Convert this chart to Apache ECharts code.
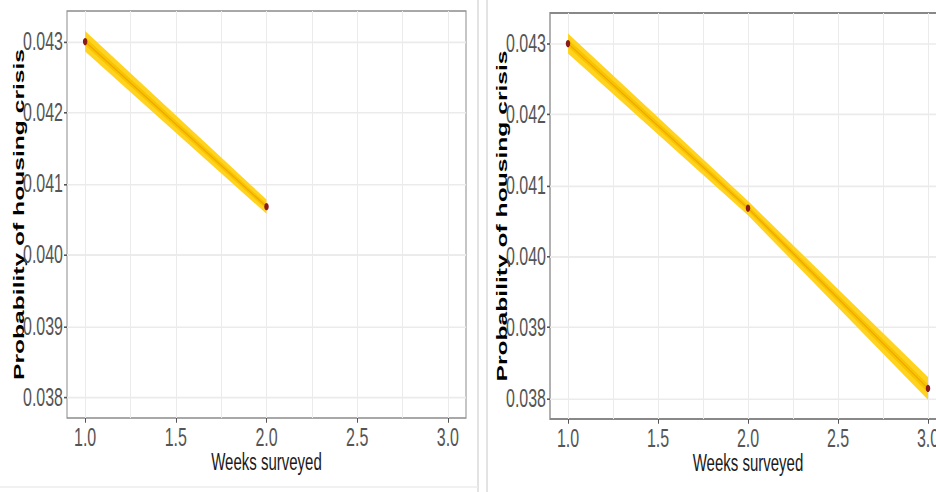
<!DOCTYPE html>
<html>
<head>
<meta charset="utf-8">
<title>Probability of housing crisis by weeks surveyed</title>
<script src="https://cdn.jsdelivr.net/npm/echarts@6/dist/echarts.min.js"></script>
<style>
  html { margin: 0; padding: 0; background: #ffffff; width: 936px; height: 492px; overflow: hidden; }
  body { margin: 0; padding: 0; background: #ffffff; width: 936px; height: 492px; }
  /* the figure is drawn short and stretched vertically, giving the tall, narrow lettering */
  #chart { width: 936px; height: 307.5px; transform: scaleY(1.6); transform-origin: 0 0; }
</style>
</head>
<body>
<div id="chart"></div>
<script>
// ---- model with two survey weeks ----
const weeksTwo = [1, 2];
const probTwo = [0.04300, 0.04068];
const ciLowTwo = [0.04286, 0.04058];
const ciHighTwo = [0.04315, 0.04078];
const coreLowTwo = [0.04295, 0.04064];
const coreHighTwo = [0.04306, 0.04072];

// ---- model with three survey weeks ----
const weeksThree = [1, 2, 3];
const probThree = [0.04300, 0.04068, 0.03814];
const ciLowThree = [0.04286, 0.04058, 0.03798];
const ciHighThree = [0.04314, 0.04078, 0.03830];
const coreLowThree = [0.04295, 0.04064, 0.03808];
const coreHighThree = [0.04306, 0.04072, 0.03820];

// ---- axes ----
const weekRange = [0.9, 3.1];
const probRange = [0.03771, 0.04343];
const weekMinorGrid = [1.25, 1.75, 2.25, 2.75];
const probMinorGrid = [0.0385, 0.0395, 0.0405, 0.0415, 0.0425];

const FONT = '"Liberation Sans", Arial, sans-serif';
const GRID_COLOR = '#ebebeb';
const BAND_OUTER = '#ffd31f';
const BAND_INNER = '#f8c400';
const FIT_LINE = '#eea300';
const POINT = '#8b1a1a';

const chart = echarts.init(document.getElementById('chart'), null, { renderer: 'svg' });

function xAxisFor(gridIndex) {
  return {
    type: 'value', gridIndex, min: weekRange[0], max: weekRange[1],
    name: 'Weeks surveyed', nameLocation: 'middle', nameGap: 20, nameMoveOverlap: false,
    nameTextStyle: { fontFamily: FONT, fontSize: 15, color: '#1a1a1a' },
    axisLine: { show: false },
    axisTick: { show: true, length: 3, lineStyle: { color: '#555555' } },
    axisLabel: {
      fontFamily: FONT, fontSize: 16, color: '#555555', margin: 4,
      showMinLabel: false, showMaxLabel: false,
      formatter: v => v.toFixed(1)
    },
    splitLine: { show: true, showMinLine: false, showMaxLine: false,
      lineStyle: { color: GRID_COLOR, width: 1 } }
  };
}

function yAxisFor(gridIndex) {
  return {
    type: 'value', gridIndex, min: probRange[0], max: probRange[1],
    name: 'Probability of housing crisis', nameLocation: 'middle', nameRotate: 90,
    nameGap: 41.5, nameMoveOverlap: false,
    nameTextStyle: { fontFamily: FONT, fontSize: 15.4, fontWeight: 'bold', color: '#000000' },
    axisLine: { show: false },
    axisTick: { show: true, length: 3, lineStyle: { color: '#555555' } },
    axisLabel: {
      fontFamily: FONT, fontSize: 16, color: '#555555', margin: 4,
      showMinLabel: false, showMaxLabel: false,
      formatter: v => v.toFixed(3)
    },
    splitLine: { show: true, showMinLine: false, showMaxLine: false,
      lineStyle: { color: GRID_COLOR, width: 1 } }
  };
}

// polygon between a lower and an upper bound, placed through the axes
function bandSeries(idx, xs, lo, hi, fill) {
  return {
    type: 'custom', xAxisIndex: idx, yAxisIndex: idx, z: 2, silent: true, clip: true,
    data: xs.map((x, i) => [x, lo[i], hi[i]]),
    encode: { x: 0, y: [1, 2] },
    renderItem: function (params, api) {
      if (params.dataIndex !== 0) return null;
      const pts = [];
      for (let i = 0; i < xs.length; i++) pts.push(api.coord([xs[i], hi[i]]));
      for (let i = xs.length - 1; i >= 0; i--) pts.push(api.coord([xs[i], lo[i]]));
      return { type: 'polygon', shape: { points: pts }, style: { fill: fill, stroke: null } };
    }
  };
}

function minorGridSeries(idx) {
  return {
    type: 'line', xAxisIndex: idx, yAxisIndex: idx, data: [], silent: true,
    markLine: {
      z: 1, silent: true, symbol: 'none', animation: false,
      label: { show: false },
      lineStyle: { type: 'solid', color: GRID_COLOR, width: 1 },
      emphasis: { disabled: true },
      data: weekMinorGrid.map(v => ({ xAxis: v })).concat(probMinorGrid.map(v => ({ yAxis: v })))
    }
  };
}

function fitSeries(idx, xs, ys) {
  return {
    type: 'line', xAxisIndex: idx, yAxisIndex: idx, z: 3, silent: true,
    data: xs.map((x, i) => [x, ys[i]]),
    showSymbol: true, symbol: 'circle', symbolSize: 4.5,
    lineStyle: { color: FIT_LINE, width: 0.8 },
    itemStyle: { color: POINT, borderWidth: 0 }
  };
}

const option = {
  animation: false,
  backgroundColor: '#ffffff',
  grid: [
    { left: 67, top: 6.875, width: 399, height: 254.375, show: true, outerBoundsMode: 'none',
      containLabel: false,
      borderColor: '#8c8c8c', borderWidth: 1, backgroundColor: 'transparent' },
    { left: 550, top: 8.125, width: 396, height: 253.75, show: true, outerBoundsMode: 'none',
      containLabel: false,
      borderColor: '#888888', borderWidth: 1.3, backgroundColor: 'transparent' }
  ],
  xAxis: [xAxisFor(0), xAxisFor(1)],
  yAxis: [yAxisFor(0), yAxisFor(1)],
  graphic: [
    { type: 'line', silent: true, shape: { x1: 478, y1: 0, x2: 478, y2: 307.5 },
      style: { stroke: '#dadada', lineWidth: 1.5 } },
    { type: 'line', silent: true, shape: { x1: 487, y1: 0, x2: 487, y2: 307.5 },
      style: { stroke: '#dadada', lineWidth: 1.5 } },
    { type: 'line', silent: true, shape: { x1: 0, y1: 304.4, x2: 478, y2: 304.4 },
      style: { stroke: '#ececec', lineWidth: 1 } }
  ],
  series: [
    minorGridSeries(0),
    bandSeries(0, weeksTwo, ciLowTwo, ciHighTwo, BAND_OUTER),
    bandSeries(0, weeksTwo, coreLowTwo, coreHighTwo, BAND_INNER),
    fitSeries(0, weeksTwo, probTwo),
    minorGridSeries(1),
    bandSeries(1, weeksThree, ciLowThree, ciHighThree, BAND_OUTER),
    bandSeries(1, weeksThree, coreLowThree, coreHighThree, BAND_INNER),
    fitSeries(1, weeksThree, probThree)
  ]
};

chart.setOption(option);
</script>
</body>
</html>
